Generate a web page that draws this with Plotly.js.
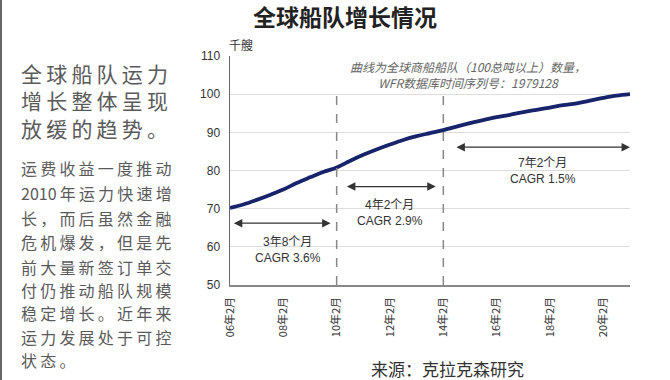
<!DOCTYPE html>
<html>
<head>
<meta charset="utf-8">
<script src="https://cdn.plot.ly/plotly-3.0.1.min.js"></script>
<style>html,body{margin:0;padding:0;background:#fff;}#chart{width:670px;height:380px;}</style>
</head>
<body>
<div id="chart"></div>
<script>
// ---- data ----
const dates = ["2006-02-01","2006-08-01","2007-02-01","2007-08-01","2008-02-01","2008-08-01","2009-02-01","2009-08-01","2010-02-01","2010-08-01","2011-02-01","2011-08-01","2012-02-01","2012-08-01","2013-02-01","2013-08-01","2014-02-01","2014-08-01","2015-02-01","2015-08-01","2016-02-01","2016-08-01","2017-02-01","2017-08-01","2018-02-01","2018-08-01","2019-02-01","2019-08-01","2020-02-01","2020-08-01","2021-02-01"];
const fleet = [70.2,71.1,72.3,73.6,75.0,76.7,78.2,79.6,80.8,82.5,84.1,85.5,86.8,88.0,89.0,89.8,90.6,91.5,92.4,93.2,94.0,94.6,95.3,95.9,96.5,97.1,97.6,98.3,99.0,99.6,100.0];
const tickDates = ["2006-02-01","2008-02-01","2010-02-01","2012-02-01","2014-02-01","2016-02-01","2018-02-01","2020-02-01"];
const tickLabels = ["06年2月","08年2月","10年2月","12年2月","14年2月","16年2月","18年2月","20年2月"];
const dividerDates = ["2010-02-01","2014-02-01"];
const periodStart = ["2006-03-05","2010-06-01","2014-07-10"];
const periodEnd = ["2009-11-10","2013-10-20","2021-02-01"];
const periodArrowY = [66.2,75.8,86.1];
const periodLabelX = ["2008-04-01","2012-02-01","2017-11-01"];
const periodLabelY = [59.2,68.9,80.0];
const periodLabels = ["3年8个月<br>CAGR 3.6%","4年2个月<br>CAGR 2.9%","7年2个月<br>CAGR 1.5%"];
const headlineLines = ["全球船队运力","增长整体呈现","放缓的趋势。"];
const bodyLines = ["运费收益一度推动","2010年运力快速增","长，而后虽然金融","危机爆发，但是先","前大量新签订单交","付仍推动船队规模","稳定增长。近年来","运力发展处于可控","状态。"];
const noteLines = ["曲线为全球商船船队（100总吨以上）数量，","WFR数据库时间序列号：1979128"];

const CJK = "'Noto Sans CJK SC', 'Liberation Sans', sans-serif";
const SANS = "'Liberation Sans', 'Noto Sans CJK SC', sans-serif";

function spaced(s){
  const parts = s.match(/[0-9A-Za-z]+|./g);
  return parts.join("\u2009");
}
const L = 230, R = 40, T = 56, B = 95, W = 670, H = 380;
const pw = W - L - R, ph = H - T - B;
const px = x => (x - L) / pw;
const py = y => (H - B - y) / ph;

const annotations = [];
annotations.push({xref:'paper', yref:'paper', x:px(19), y:py(100), xanchor:'left', yanchor:'middle', align:'left',
  text:headlineLines.map(spaced).join('<br>'), showarrow:false, font:{family:CJK, size:21, color:'#5a5a5a'}});
const bodyY = [168,193,218,242,267,290,313,337,360];
bodyLines.forEach((t, i) => {
  annotations.push({xref:'paper', yref:'paper', x:px(19), y:py(bodyY[i]), xanchor:'left', yanchor:'middle',
    text:spaced(t), showarrow:false, font:{family:CJK, size:16, color:'#5a5a5a'}});
});
annotations.push({xref:'paper', yref:'paper', x:px(241), y:py(44), xanchor:'center', yanchor:'middle',
  text:'千艘', showarrow:false, font:{family:CJK, size:12, color:'#333'}});
annotations.push({xref:'paper', yref:'paper', x:px(468), y:py(74), xanchor:'center', yanchor:'middle', align:'center',
  text:'<i>' + noteLines.join('<br>') + '</i>', showarrow:false, font:{family:CJK, size:12, color:'#666'}});
annotations.push({xref:'paper', yref:'paper', x:px(447), y:py(368), xanchor:'center', yanchor:'middle',
  text:'来源：克拉克森研究', showarrow:false, font:{family:CJK, size:17, color:'#333'}});
for (let i = 0; i < 3; i++) {
  annotations.push({xref:'x', yref:'y', axref:'x', ayref:'y', x:periodEnd[i], y:periodArrowY[i],
    ax:periodStart[i], ay:periodArrowY[i], text:'', showarrow:true, arrowside:'end+start',
    arrowhead:2, arrowsize:1.3, arrowwidth:1.3, arrowcolor:'#333', standoff:0, startstandoff:0});
  annotations.push({xref:'x', yref:'y', x:periodLabelX[i], y:periodLabelY[i], xanchor:'center', yanchor:'middle',
    text:periodLabels[i], showarrow:false, font:{family:SANS, size:12, color:'#333'}});
}

const shapes = dividerDates.map(d => ({type:'line', xref:'x', yref:'y', x0:d, x1:d, y0:50, y1:100,
  line:{color:'#888', width:1.5, dash:'dash'}}));
shapes.push({type:'line', xref:'paper', yref:'paper', x0:px(1), x1:px(1), y0:py(0), y1:py(380),
  line:{color:'#666', width:2}});

const trace = {x:dates, y:fleet, type:'scatter', mode:'lines', line:{color:'#17236b', width:3.8, shape:'spline'}, hoverinfo:'skip'};

const layout = {
  width:W, height:H,
  margin:{l:L, r:R, t:T, b:B, pad:0},
  paper_bgcolor:'#fff', plot_bgcolor:'#fff',
  showlegend:false,
  title:{text:'<b>全球船队增长情况</b>', xref:'paper', x:px(345), xanchor:'center', yref:'container', y:1-18/380, yanchor:'middle',
    font:{family:CJK, size:23, color:'#222'}},
  xaxis:{type:'date', range:['2006-02-01','2021-02-01'], tickvals:tickDates, ticktext:tickLabels, tickangle:-90,
    showgrid:false, zeroline:false, showline:true, linecolor:'#888', linewidth:1.5, ticks:'', ticklen:0, ticklabelstandoff:6,
    tickfont:{family:CJK, size:11, color:'#333'}, fixedrange:true},
  yaxis:{range:[50,110], dtick:10, showgrid:true, gridcolor:'#ddd', gridwidth:1, zeroline:false,
    showline:true, linecolor:'#666', linewidth:1.5, ticks:'', ticklabelstandoff:6,
    tickfont:{family:SANS, size:12, color:'#333'}, fixedrange:true},
  annotations:annotations,
  shapes:shapes
};
Plotly.newPlot('chart', [trace], layout, {displayModeBar:false, staticPlot:true});
</script>
</body>
</html>
